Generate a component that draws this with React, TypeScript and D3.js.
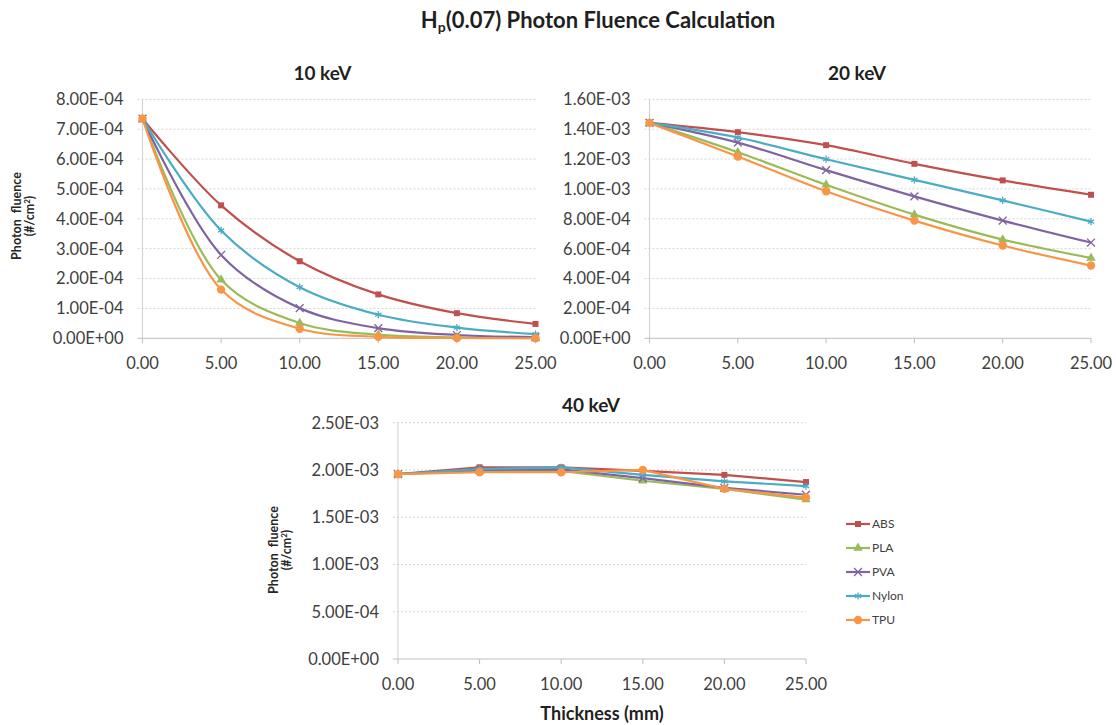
import * as d3 from 'd3';

const thickness = [0, 5, 10, 15, 20, 25];
const materials = ['ABS', 'PLA', 'PVA', 'Nylon', 'TPU'];
const colors = ['#C0504D', '#9BBB59', '#8064A2', '#4BACC6', '#F79646'];

// photon fluence (#/cm²) per material
const fluence10 = [
  [7.35e-4, 4.45e-4, 2.58e-4, 1.47e-4, 0.84e-4, 0.48e-4],
  [7.35e-4, 1.96e-4, 0.51e-4, 0.12e-4, 0.03e-4, 0.01e-4],
  [7.35e-4, 2.79e-4, 1.01e-4, 0.34e-4, 0.11e-4, 0.04e-4],
  [7.35e-4, 3.61e-4, 1.71e-4, 0.79e-4, 0.36e-4, 0.14e-4],
  [7.35e-4, 1.63e-4, 0.32e-4, 0.05e-4, 0.01e-4, 0.0],
];
const fluence20 = [
  [1.442e-3, 1.38e-3, 1.293e-3, 1.168e-3, 1.057e-3, 0.961e-3],
  [1.442e-3, 1.246e-3, 1.028e-3, 0.828e-3, 0.661e-3, 0.538e-3],
  [1.442e-3, 1.31e-3, 1.126e-3, 0.95e-3, 0.788e-3, 0.641e-3],
  [1.442e-3, 1.344e-3, 1.199e-3, 1.061e-3, 0.923e-3, 0.781e-3],
  [1.442e-3, 1.217e-3, 0.984e-3, 0.788e-3, 0.621e-3, 0.487e-3],
];
const fluence40 = [
  [1.955e-3, 2.028e-3, 2.028e-3, 1.99e-3, 1.948e-3, 1.872e-3],
  [1.955e-3, 1.99e-3, 1.99e-3, 1.886e-3, 1.8e-3, 1.686e-3],
  [1.955e-3, 2.0e-3, 2.007e-3, 1.914e-3, 1.81e-3, 1.738e-3],
  [1.955e-3, 2.01e-3, 2.028e-3, 1.948e-3, 1.88e-3, 1.83e-3],
  [1.955e-3, 1.976e-3, 1.976e-3, 2.0e-3, 1.8e-3, 1.708e-3],
];

const yTicks10 = ['0.00E+00', '1.00E-04', '2.00E-04', '3.00E-04', '4.00E-04', '5.00E-04', '6.00E-04', '7.00E-04', '8.00E-04'];
const yTicks20 = ['0.00E+00', '2.00E-04', '4.00E-04', '6.00E-04', '8.00E-04', '1.00E-03', '1.20E-03', '1.40E-03', '1.60E-03'];
const yTicks40 = ['0.00E+00', '5.00E-04', '1.00E-03', '1.50E-03', '2.00E-03', '2.50E-03'];

const FONT = "Lato, 'Open Sans', sans-serif";
const TXT = '#404040';

function Marker({ i, x, y }) {
  const c = colors[i];
  if (i === 0) return <rect x={x - 3} y={y - 3} width={6} height={6} fill={c} />;
  if (i === 1) return <path d={d3.symbol(d3.symbolTriangle, 38)()} transform={`translate(${x},${y})`} fill={c} />;
  if (i === 2) return <path d={d3.symbol(d3.symbolTimes, 42)()} transform={`translate(${x},${y})`} fill="none" stroke={c} strokeWidth={1.3} />;
  if (i === 3) return <path d={d3.symbol(d3.symbolAsterisk, 36)()} transform={`translate(${x},${y})`} fill="none" stroke={c} strokeWidth={1.3} />;
  return <circle cx={x} cy={y} r={4.2} fill={c} />;
}

function Panel({ box, title, yLabels, data, smooth }) {
  const x = d3.scaleLinear().domain([0, 25]).range([box.left, box.right]);
  const yVals = yLabels.map(Number);
  const y = d3.scaleLinear().domain([0, d3.max(yVals)]).range([box.bottom, box.top]);
  const line = d3
    .line()
    .x((d) => x(d[0]))
    .y((d) => y(d[1]))
    .curve(smooth ? d3.curveCatmullRom.alpha(0.5) : d3.curveLinear);

  return (
    <g>
      <text x={box.titleX} y={box.titleY} textAnchor="middle" fontSize={19} fontWeight="bold" fill="#1f1f1f">
        {title}
      </text>
      {yVals.map((v, k) =>
        v === 0 ? null : (
          <line key={k} x1={box.left - 5} x2={box.right} y1={y(v)} y2={y(v)} stroke="#d4d4d4" strokeDasharray="2,2" />
        )
      )}
      <line x1={box.left - 5} x2={box.right} y1={box.bottom} y2={box.bottom} stroke="#bfbfbf" />
      <line x1={box.left} x2={box.left} y1={box.top} y2={box.bottom} stroke="#d0d0d0" />
      {thickness.map((t) => (
        <line key={t} x1={x(t)} x2={x(t)} y1={box.bottom} y2={box.bottom + 5} stroke="#bfbfbf" />
      ))}
      {yLabels.map((lab, k) => (
        <text key={lab} x={box.left - 19} y={y(yVals[k])} dy="0.36em" textAnchor="end" fontSize={16.5} fill={TXT}>
          {lab}
        </text>
      ))}
      {thickness.map((t) => (
        <text key={t} x={x(t)} y={box.bottom + 25} dy="0.36em" textAnchor="middle" fontSize={16.5} fill={TXT}>
          {t.toFixed(2)}
        </text>
      ))}
      {data.map((row, i) => {
        const pts = row.map((v, k) => [thickness[k], v]);
        return (
          <g key={i}>
            <path d={line(pts)} fill="none" stroke={colors[i]} strokeWidth={2.2} />
            {pts.map((p, k) => (
              <Marker key={k} i={i} x={x(p[0])} y={y(p[1])} />
            ))}
          </g>
        );
      })}
    </g>
  );
}

function YTitle({ x, y }) {
  return (
    <g fontSize={12.5} fontWeight="bold" fill="#262626">
      <text transform={`translate(${x},${y}) rotate(-90)`} textAnchor="middle">
        Photon&#160;&#160;fluence
      </text>
      <text transform={`translate(${x + 13},${y}) rotate(-90)`} textAnchor="middle">
        (#/cm<tspan dy={-4} fontSize={8}>2</tspan>
        <tspan dy={4}>)</tspan>
      </text>
    </g>
  );
}

export default function App() {
  return (
    <div style={{ position: 'absolute', left: 0, top: 0 }}>
      <svg width={1116} height={725} style={{ display: 'block', background: '#fff' }} fontFamily={FONT}>
        <text x={598} y={28} textAnchor="middle" fontSize={22} fontWeight="bold" fill="#1f1f1f">
          H<tspan fontSize={14} dy={4}>p</tspan>
          <tspan dy={-4}>(0.07) Photon Fluence Calculation</tspan>
        </text>

        <Panel
          box={{ left: 142.5, right: 535.5, top: 99.3, bottom: 338.3, titleX: 322.5, titleY: 80 }}
          title="10 keV"
          yLabels={yTicks10}
          data={fluence10}
          smooth
        />
        <Panel
          box={{ left: 649.5, right: 1091, top: 99.3, bottom: 338.3, titleX: 857, titleY: 80 }}
          title="20 keV"
          yLabels={yTicks20}
          data={fluence20}
          smooth
        />
        <Panel
          box={{ left: 398, right: 806, top: 422.7, bottom: 659, titleX: 591, titleY: 412 }}
          title="40 keV"
          yLabels={yTicks40}
          data={fluence40}
          smooth={false}
        />

        <YTitle x={21} y={216} />
        <YTitle x={278} y={550} />

        <text x={602} y={720} textAnchor="middle" fontSize={18} fontWeight="bold" fill="#1f1f1f">
          Thickness (mm)
        </text>

        {materials.map((m, i) => {
          const ly = 524 + i * 24;
          return (
            <g key={m}>
              <line x1={846} x2={870} y1={ly} y2={ly} stroke={colors[i]} strokeWidth={2.2} />
              <Marker i={i} x={858} y={ly} />
              <text x={872} y={ly} dy="0.36em" fontSize={12} fill={TXT}>
                {m}
              </text>
            </g>
          );
        })}
      </svg>
    </div>
  );
}
